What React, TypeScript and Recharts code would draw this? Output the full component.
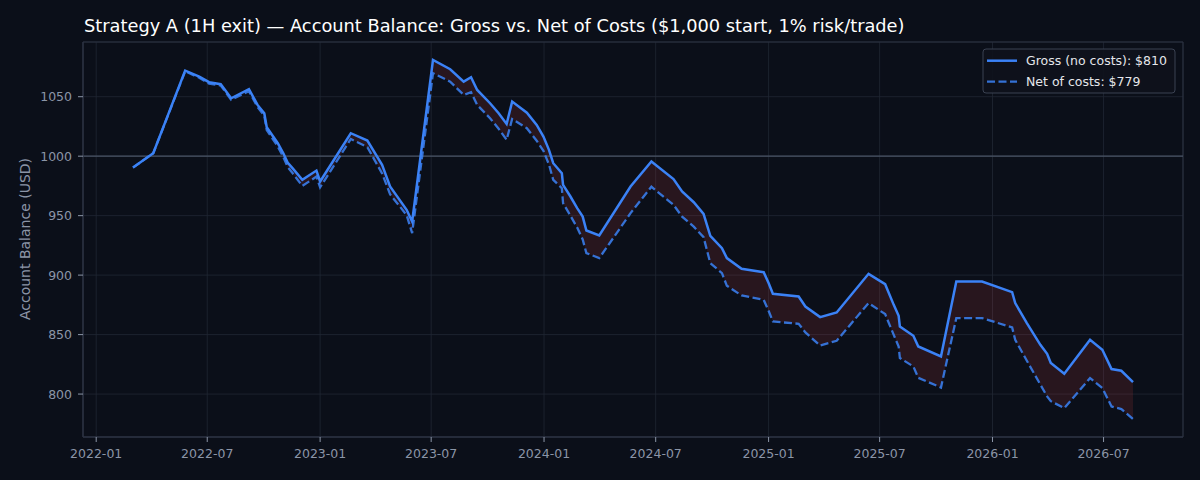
import {
  ComposedChart,
  Line,
  Area,
  XAxis,
  YAxis,
  CartesianGrid,
  ReferenceLine,
  ReferenceArea,
} from "recharts";

const FONT = "'DejaVu Sans', sans-serif";
const BG = "#0b0f19";
const MUTED = "#8b95a7";
const GRID = "#212733";
const SPINE = "#2d3342";
const BLUE = "#3b82f6";

const dates = [
  "2022-03-02", "2022-04-04", "2022-05-26", "2022-06-18", "2022-07-04", "2022-07-23",
  "2022-08-09", "2022-09-07", "2022-09-21", "2022-10-02", "2022-10-06", "2022-10-24",
  "2022-11-02", "2022-11-09", "2022-11-17", "2022-12-03", "2022-12-26", "2023-01-01",
  "2023-02-20", "2023-03-19", "2023-04-12", "2023-04-25", "2023-05-22", "2023-05-31",
  "2023-07-04", "2023-08-01", "2023-08-23", "2023-09-04", "2023-09-14", "2023-10-05",
  "2023-10-19", "2023-11-01", "2023-11-10", "2023-12-04", "2023-12-20", "2023-12-31",
  "2024-01-09", "2024-01-16", "2024-01-30", "2024-02-01", "2024-02-13", "2024-02-24",
  "2024-03-04", "2024-03-10", "2024-03-31", "2024-05-21", "2024-06-24", "2024-07-30",
  "2024-08-13", "2024-09-01", "2024-09-17", "2024-09-28", "2024-10-17", "2024-10-25",
  "2024-11-18", "2024-12-24", "2025-01-01", "2025-01-08", "2025-02-19", "2025-03-02",
  "2025-03-26", "2025-04-22", "2025-06-13", "2025-07-10", "2025-07-24", "2025-08-01",
  "2025-08-03", "2025-08-25", "2025-09-02", "2025-10-09", "2025-11-03", "2025-12-15",
  "2026-02-02", "2026-02-07", "2026-02-26", "2026-03-20", "2026-03-31", "2026-04-06",
  "2026-04-28", "2026-06-09", "2026-06-29", "2026-07-14", "2026-07-30", "2026-08-18",
];

const gross = [
  990.4, 1002.5, 1071.9, 1066.9, 1062.2, 1060.5,
  1048.7, 1056.3, 1043.1, 1036.1, 1024.4, 1010.9,
  1002.5, 994.6, 989.9, 980.1, 987.9, 978.7,
  1019.3, 1013.1, 992.7, 974.5, 954.9, 945.0,
  1080.9, 1073.1, 1062.7, 1066.4, 1055.7, 1044.5,
  1036.1, 1027.1, 1045.9, 1036.6, 1026.3, 1016.5,
  1005.3, 994.1, 985.7, 975.9, 966.1, 956.3,
  949.2, 937.5, 933.3, 974.5, 995.5, 980.7,
  970.3, 961.3, 951.5, 933.0, 922.7, 914.3,
  905.3, 902.5, 893.3, 884.3, 882.0, 873.6,
  864.7, 868.6, 901.1, 892.4, 875.0, 865.8,
  856.8, 849.0, 840.0, 831.6, 894.6, 894.6,
  885.7, 876.5, 859.7, 841.4, 833.9, 826.1,
  817.1, 845.6, 837.2, 821.0, 819.6, 810.0,
];

const net = [
  990.4, 1002.5, 1071.3, 1066.0, 1061.0, 1059.4,
  1047.5, 1054.6, 1041.3, 1034.0, 1022.0, 1008.2,
  999.3, 991.0, 985.8, 975.0, 982.8, 973.8,
  1014.4, 1007.6, 985.5, 968.0, 950.5, 935.3,
  1069.7, 1062.7, 1051.5, 1053.8, 1043.1, 1031.9,
  1023.0, 1013.7, 1031.3, 1023.5, 1013.0, 1004.5,
  993.0, 980.1, 973.1, 960.5, 950.0, 940.0,
  930.0, 918.5, 914.3, 952.1, 974.3, 959.1,
  949.2, 940.8, 931.9, 910.1, 901.7, 891.0,
  882.9, 879.2, 870.0, 861.0, 859.1, 851.8,
  840.8, 844.8, 876.5, 867.2, 849.8, 840.0,
  830.3, 823.2, 813.7, 805.5, 863.9, 863.9,
  856.0, 845.6, 828.0, 808.0, 798.0, 794.0,
  788.2, 813.4, 805.0, 789.6, 787.4, 779.0,
];

const xTickDates = [
  "2022-01-01", "2022-07-01", "2023-01-01", "2023-07-01", "2024-01-01",
  "2024-07-01", "2025-01-01", "2025-07-01", "2026-01-01", "2026-07-01",
];
const yTicks = [800, 850, 900, 950, 1000, 1050];

const legendLabels = ["Gross (no costs): $810", "Net of costs: $779"];

const toTime = (s: string) => Date.parse(s + "T00:00:00Z");

const data = dates.map((d, i) => ({
  t: toTime(d),
  gross: gross[i],
  net: net[i],
  band: [net[i], gross[i]],
}));

// matplotlib-style 5% margins
const tFirst = data[0].t;
const tLast = data[data.length - 1].t;
const tPad = (tLast - tFirst) * 0.05;
const xDomain = [tFirst - tPad, tLast + tPad];

const allVals = gross.concat(net);
const vMin = Math.min(...allVals);
const vMax = Math.max(...allVals);
const vPad = (vMax - vMin) * 0.05;
const yDomain = [vMin - vPad, vMax + vPad];

const xTicks = xTickDates.map(toTime);

const fmtMonth = (t: number) => {
  const d = new Date(t);
  return `${d.getUTCFullYear()}-${String(d.getUTCMonth() + 1).padStart(2, "0")}`;
};

export default function App() {
  return (
    <div
      style={{
        position: "fixed",
        left: 0,
        top: 0,
        width: 1200,
        height: 480,
        background: BG,
        fontFamily: FONT,
      }}
    >
      <ComposedChart
        width={1200}
        height={480}
        data={data}
        margin={{ top: 42, right: 17, bottom: 0, left: 0 }}
      >
        <CartesianGrid stroke={GRID} strokeWidth={0.8} />
        <XAxis
          dataKey="t"
          type="number"
          domain={xDomain}
          ticks={xTicks}
          tickFormatter={fmtMonth}
          allowDataOverflow
          height={43}
          tickSize={5}
          tickMargin={7}
          axisLine={{ stroke: SPINE }}
          tickLine={{ stroke: MUTED }}
          tick={{ fill: MUTED, fontSize: 12.5, fontFamily: FONT }}
        />
        <YAxis
          type="number"
          domain={yDomain}
          ticks={yTicks}
          allowDataOverflow
          width={83}
          tickSize={5}
          tickMargin={6}
          axisLine={{ stroke: SPINE }}
          tickLine={{ stroke: MUTED }}
          tick={{ fill: MUTED, fontSize: 12.5, fontFamily: FONT }}
        />
        <ReferenceArea
          x1={xDomain[0]}
          x2={xDomain[1]}
          y1={yDomain[0]}
          y2={yDomain[1]}
          fill="none"
          stroke={SPINE}
          strokeWidth={1}
        />
        <ReferenceLine y={1000} stroke="#4a5466" strokeWidth={1.3} />
        <Area
          dataKey="band"
          type="linear"
          stroke="none"
          fill="#ef4444"
          fillOpacity={0.13}
          isAnimationActive={false}
          activeDot={false}
        />
        <Line
          dataKey="net"
          type="linear"
          stroke={BLUE}
          strokeOpacity={0.85}
          strokeWidth={2.3}
          strokeDasharray="8 3.5"
          dot={false}
          activeDot={false}
          isAnimationActive={false}
        />
        <Line
          dataKey="gross"
          type="linear"
          stroke={BLUE}
          strokeWidth={2.5}
          dot={false}
          activeDot={false}
          isAnimationActive={false}
        />
      </ComposedChart>
      <svg
        width={1200}
        height={480}
        style={{ position: "absolute", left: 0, top: 0, pointerEvents: "none" }}
      >
        <text x={84} y={32} fill="#ffffff" fontSize={17.8} fontFamily={FONT}>
          Strategy A (1H exit) — Account Balance: Gross vs. Net of Costs ($1,000 start, 1% risk/trade)
        </text>
        <text
          transform="translate(25,239) rotate(-90)"
          textAnchor="middle"
          dominantBaseline="central"
          fill={MUTED}
          fontSize={14}
          fontFamily={FONT}
        >
          Account Balance (USD)
        </text>
        <rect
          x={983}
          y={49}
          width={192}
          height={44}
          rx={3}
          fill="#0e121c"
          fillOpacity={0.9}
          stroke="#3b4252"
        />
        <line x1={987} x2={1017} y1={60.7} y2={60.7} stroke={BLUE} strokeWidth={2.5} />
        <line
          x1={987}
          x2={1017}
          y1={81.7}
          y2={81.7}
          stroke={BLUE}
          strokeOpacity={0.85}
          strokeWidth={2.3}
          strokeDasharray="8 3.5"
        />
        {legendLabels.map((label, i) => (
          <text
            key={label}
            x={1026}
            y={60.7 + i * 21}
            dominantBaseline="central"
            fill="#e5e7eb"
            fontSize={12.5}
            fontFamily={FONT}
          >
            {label}
          </text>
        ))}
      </svg>
    </div>
  );
}
